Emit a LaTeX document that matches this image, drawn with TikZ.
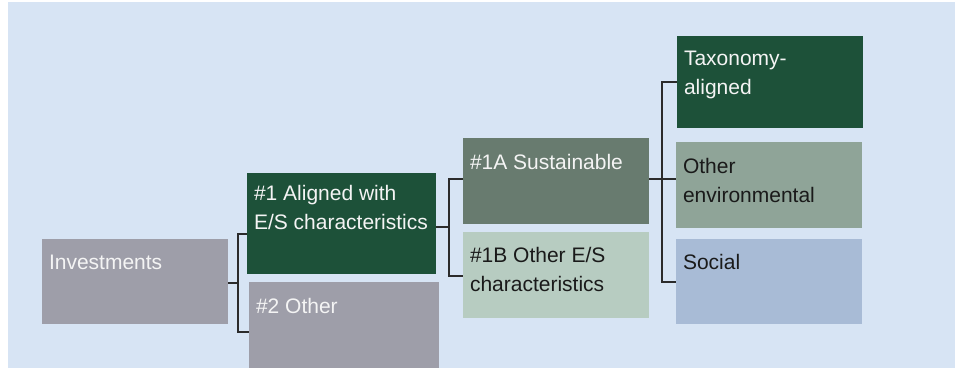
\documentclass[tikz,border=0pt]{standalone}
\usepackage{fontspec}
\setmainfont{Liberation Sans}
\usetikzlibrary{calc}
\definecolor{bgc}{HTML}{D7E4F4}
\definecolor{grayc}{HTML}{9E9EA9}
\definecolor{dkgreen}{HTML}{1D5139}
\definecolor{sustc}{HTML}{687B6F}
\definecolor{otheresc}{HTML}{B7CCC1}
\definecolor{envc}{HTML}{8FA498}
\definecolor{socc}{HTML}{A8BBD6}
\definecolor{linec}{HTML}{2B2B2B}
\definecolor{whitetxt}{HTML}{F4F4F4}
\definecolor{darktxt}{HTML}{1A1A1A}
\tikzset{
  box/.style={anchor=north west, inner sep=0pt, outer sep=0pt, draw=none},
  txt/.style={anchor=base west, inner sep=0pt, outer sep=0pt, font=\fontsize{21}{29}\selectfont},
  conn/.style={draw=linec, line width=1.1pt}
}
\newcommand\bx[9]{%
  \node[box, fill=#6, minimum width=#4pt, minimum height=#5pt] (#1) at (#2,#3) {};
  \node[txt, text=#7] (#1t) at ($(#1.north west)+(7,#8)$) {\parbox[t]{185pt}{#9}};
}
\begin{document}
\begin{tikzpicture}[x=1pt,y=-1pt]
\useasboundingbox (0,0) rectangle (959,369);
\fill[bgc] (8,2) rectangle (955,368);
% boxes
\bx{inv}{42}{239}{186}{85}{grayc}{whitetxt}{30}{Investments}
\bx{a1}{247}{173}{189}{101}{dkgreen}{whitetxt}{27}{\#1 Aligned with\\E/S characteristics}
\bx{o2}{249}{282}{190}{86}{grayc}{whitetxt}{31}{\#2 Other}
\bx{s1a}{463}{138}{186}{86}{sustc}{whitetxt}{31}{\#1A Sustainable}
\bx{s1b}{463}{232}{186}{86}{otheresc}{darktxt}{30}{\#1B Other E/S\\characteristics}
\bx{tax}{677}{36}{186}{92}{dkgreen}{whitetxt}{30}{Taxonomy-\\aligned}
\bx{oenv}{676}{142}{186}{86}{envc}{darktxt}{31}{Other\\environmental}
\bx{soc}{676}{239}{186}{85}{socc}{darktxt}{30}{Social}
% junction coordinates
\coordinate (j1) at (238,283);
\coordinate (j1a) at (238,234);
\coordinate (j1b) at (238,332);
\coordinate (j2) at (449,227);
\coordinate (j2a) at (449,179);
\coordinate (j2b) at (449,276);
\coordinate (j3) at (662,179);
\coordinate (j3a) at (662,82);
\coordinate (j3b) at (662,282);
% connectors
\draw[conn] (inv.east |- j1) -- (j1);
\draw[conn] (a1.west |- j1a) -- (j1a) -- (j1b) -- (o2.west |- j1b);
\draw[conn] (a1.east |- j2) -- (j2);
\draw[conn] (s1a.west |- j2a) -- (j2a) -- (j2b) -- (s1b.west |- j2b);
\draw[conn] (s1a.east |- j3) -- (oenv.west |- j3);
\draw[conn] (tax.west |- j3a) -- (j3a) -- (j3b) -- (soc.west |- j3b);
\end{tikzpicture}
\end{document}
